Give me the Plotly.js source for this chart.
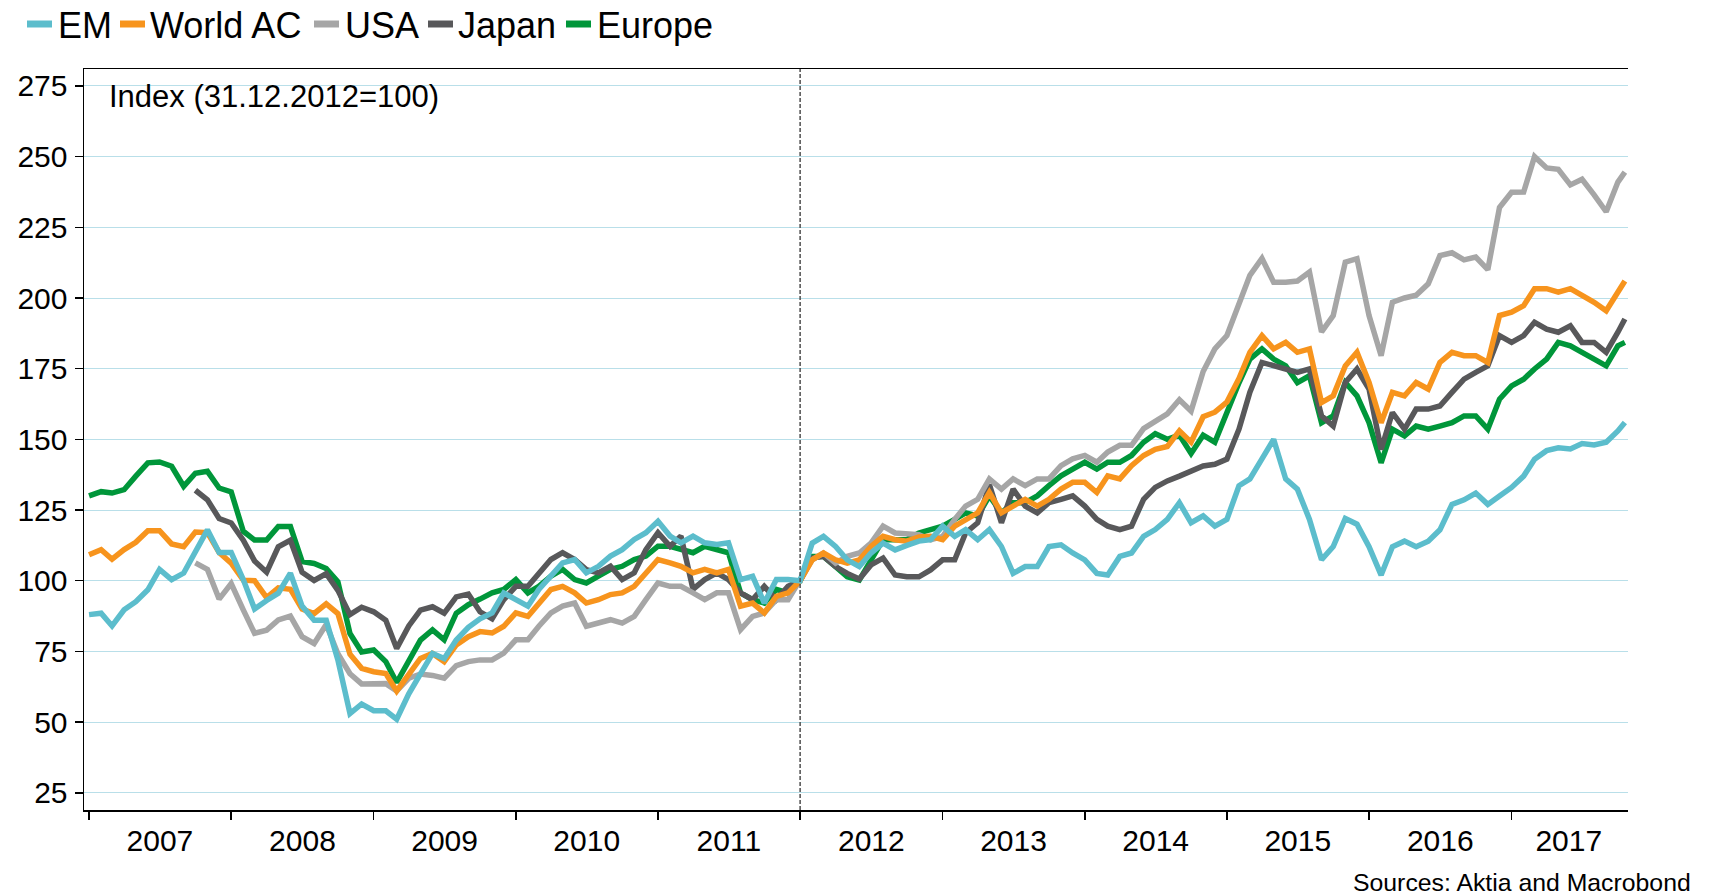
<!DOCTYPE html>
<html>
<head>
<meta charset="utf-8">
<script src="https://cdn.plot.ly/plotly-3.0.1.min.js"></script>
<style>
html,body{margin:0;padding:0;background:#ffffff;}
#chart{width:1715px;height:896px;}
</style>
</head>
<body>
<div id="chart"></div>
<script>
// ---------- DATA ----------
const dates = [
 '2007-01','2007-02','2007-03','2007-04','2007-05','2007-06','2007-07','2007-08','2007-09','2007-10','2007-11','2007-12',
 '2008-01','2008-02','2008-03','2008-04','2008-05','2008-06','2008-07','2008-08','2008-09','2008-10','2008-11','2008-12',
 '2009-01','2009-02','2009-03','2009-04','2009-05','2009-06','2009-07','2009-08','2009-09','2009-10','2009-11','2009-12',
 '2010-01','2010-02','2010-03','2010-04','2010-05','2010-06','2010-07','2010-08','2010-09','2010-10','2010-11','2010-12',
 '2011-01','2011-02','2011-03','2011-04','2011-05','2011-06','2011-07','2011-08','2011-09','2011-10','2011-11','2011-12',
 '2012-01','2012-02','2012-03','2012-04','2012-05','2012-06','2012-07','2012-08','2012-09','2012-10','2012-11','2012-12',
 '2013-01','2013-02','2013-03','2013-04','2013-05','2013-06','2013-07','2013-08','2013-09','2013-10','2013-11','2013-12',
 '2014-01','2014-02','2014-03','2014-04','2014-05','2014-06','2014-07','2014-08','2014-09','2014-10','2014-11','2014-12',
 '2015-01','2015-02','2015-03','2015-04','2015-05','2015-06','2015-07','2015-08','2015-09','2015-10','2015-11','2015-12',
 '2016-01','2016-02','2016-03','2016-04','2016-05','2016-06','2016-07','2016-08','2016-09','2016-10','2016-11','2016-12',
 '2017-01','2017-02','2017-03','2017-04','2017-05','2017-06','2017-07','2017-08','2017-09','2017-10','2017-10-19'
];

const seriesNames = ['EM', 'World AC', 'USA', 'Japan', 'Europe'];

const em = [
 88, 88.5, 84, 89.7, 92.6, 96.8, 104, 100.4, 102.7, 110,
 118, 110, 110, 100.4, 90, 93, 95.6, 102.7, 91, 86,
 86, 72, 53, 56.4, 54, 54, 51, 60, 67.3, 74.3,
 72.5, 79, 83.5, 86.5, 88.6, 95.7, 93.3, 91, 96.9, 101.6,
 106.3, 107.5, 102.8, 105.1, 108.7, 111, 114.6, 117, 121, 115.8,
 113.4, 115.8, 113.4, 112.8, 113.4, 100.4, 101.6, 92.1, 100.4, 100.4,
 100, 113.3, 115.7, 112.1, 107.4, 105, 109.8, 113.3, 110.9, 112.5,
 114, 114.5, 119.3, 115.7, 118.1, 114.5, 118.1, 112.1, 102.6, 105,
 105, 112.1, 112.7, 109.8, 107.4, 102.6, 102, 108.6, 109.8, 115.7,
 118.1, 121.7, 127.6, 120.5, 122.9, 119.3, 121.7, 133.6, 136, 143.1,
 150, 136, 132.4, 121.7, 107.4, 112.1, 122, 120, 112, 102,
 112, 114, 112, 114, 118, 127, 128.6, 131, 127, 130,
 133, 137, 143, 146, 147, 146.6, 148.5, 148, 149, 153,
 156
];

const worldAC = [
 109.2, 111, 107.6, 111, 113.6, 117.7, 117.7, 113, 112, 117.2,
 117, 110, 106.2, 100.2, 100, 94, 97.5, 97, 90, 88.4,
 91.8, 88.4, 74, 69, 67.8, 67.2, 61, 67.2, 72.5, 74.3,
 71.4, 77.3, 80.2, 82, 81.5, 83.9, 88.6, 87.4, 92.1, 96.9,
 98, 95.7, 92.1, 93.3, 95.1, 95.7, 98, 102.8, 107.5, 106.3,
 105.1, 102.8, 104, 102.8, 104, 91, 92.1, 88.6, 94.5, 95.7,
 100, 107.4, 109.8, 107.4, 106.2, 107.4, 112.1, 115.7, 114.5, 114,
 115.5, 115.7, 114.5, 119.3, 121.7, 124, 131.2, 124, 126.4, 128.8,
 126.4, 128.8, 132.4, 134.8, 134.8, 131.2, 137.1, 136, 140.7, 144.3,
 146.5, 147.5, 153, 149, 158, 159.6, 163.2, 171.5, 180.8, 186.7,
 182, 184.3, 180.8, 182, 163, 165.4, 176, 180.8, 170.1, 155.9,
 166.6, 165.4, 170.1, 167.8, 177.2, 180.8, 179.6, 179.6, 177.2, 193.8,
 195, 197.3, 203.3, 203.3, 202.1, 203.3, 200.9, 198.5, 195.5, 202,
 206
];

const usa = [
 null, null, null, null, null, null, null, null, null, 106.3,
 104, 93.5, 99, 89.7, 81.4, 82.5, 86.1, 87.5, 80.2, 77.8,
 84.5, 74.2, 67.1, 63.5, 63.5, 63.6, 61, 65.5, 67, 66.5,
 65.5, 70, 71.4, 72, 72, 74.4, 79.1, 79.1, 83.9, 88.6,
 91, 92.1, 83.9, 85, 86.2, 85, 87.4, 93.3, 99.2, 98,
 98, 95.7, 93.3, 95.7, 95.7, 82.7, 87.4, 88.6, 93.3, 93.3,
 100, 107.4, 109.8, 106.2, 108.6, 109.8, 113.3, 119.3, 116.9, 116.5,
 116.3, 114.5, 115.7, 121.7, 126.4, 128.8, 136, 132.4, 136, 133.6,
 136, 136, 140.7, 143.1, 144.3, 141.9, 145.5, 147.9, 147.9, 153.8,
 156.5, 159, 164, 160, 174, 182, 186.7, 198.5, 208, 214,
 205.6, 205.6, 206, 209.2, 188, 193.8, 212.7, 213.9, 193.8, 179.6,
 198.5, 200, 201, 205, 215, 216, 213.5, 214.5, 210, 232,
 237.4, 237.5, 250, 246, 245.5, 240, 242, 236.5, 230.5, 241,
 244.5
];

const japan = [
 null, null, null, null, null, null, null, null, null, 132,
 128.6, 122, 120.4, 114.3, 107, 103, 112, 114.3, 103, 100.1,
 102.5, 96.6, 88, 90.6, 89, 86, 76, 84, 89.6, 90.8,
 88.5, 94.3, 95.3, 89, 86.5, 93.3, 98, 98, 102.8, 107.5,
 109.9, 107.5, 103.9, 102.8, 105.1, 100.4, 102.8, 111, 117, 112.2,
 115.8, 97, 100.4, 102.8, 100.4, 95.7, 93.3, 98, 93.3, 98,
 100, 108, 108.6, 105, 102.6, 100.6, 105.6, 108, 102, 101.4,
 101.4, 103.8, 107.4, 107.4, 116.9, 120.5, 134, 120.5, 132.4, 126.4,
 124, 127.6, 128.8, 130, 126.4, 121.7, 119.3, 118.1, 119.3, 128.8,
 133, 135.3, 137, 138.8, 140.6, 141.2, 143, 153.6, 166.7, 177.2,
 176, 174.9, 173.7, 174.9, 158.3, 154.7, 170.1, 174.9, 167.8, 146.4,
 159.5, 153.6, 160.7, 160.7, 161.8, 166.6, 171.3, 173.7, 176, 186.7,
 184.3, 186.7, 191.4, 189, 187.9, 190.2, 184.3, 184.3, 180.8, 187.9,
 192.6
];

const europe = [
 130, 131.5, 131, 132.2, 137, 141.7, 142, 140.5, 133.4, 138,
 138.7, 132.8, 131.4, 117.5, 114.4, 114.4, 119.2, 119.2, 106.8, 106.1,
 104.3, 99.6, 81.3, 74.8, 75.5, 71.4, 64, 72, 79, 82.6,
 79.1, 88.5, 91.5, 93.5, 95.7, 96.9, 100.4, 95.7, 98, 101.6,
 104, 100.4, 99.2, 101.6, 104, 105.1, 107.5, 108.7, 112.2, 112.2,
 111, 109.9, 112.2, 111, 109.9, 95.7, 93.3, 92.1, 96.9, 95.7,
 100, 108.6, 108.6, 105, 101.4, 100.2, 107.4, 114.5, 114.5, 114.5,
 116.9, 118.1, 119.3, 121.7, 124, 122.9, 130, 124, 127.6, 127.6,
 130, 133.6, 137.1, 139.5, 141.9, 139.5, 141.9, 141.9, 144.3, 149,
 152, 150, 151.5, 145, 151.5, 149, 160, 170, 178.4, 182,
 178.4, 176, 170.1, 172.5, 155.9, 158.3, 170.1, 165.4, 155.9, 141.7,
 153.6, 151.2, 154.7, 153.6, 154.7, 155.9, 158.3, 158.3, 153.6, 164.2,
 168.9, 171.3, 174.9, 178.4, 184.3, 183.1, 180.8, 178.4, 176, 183.1,
 184.3
];

const yTickVals = [25, 50, 75, 100, 125, 150, 175, 200, 225, 250, 275];
const yearLabels = ['2007','2008','2009','2010','2011','2012','2013','2014','2015','2016','2017'];
const yearLabelPos = ['2007-07-02','2008-07-02','2009-07-02','2010-07-02','2011-07-02','2012-07-02',
                      '2013-07-02','2014-07-02','2015-07-02','2016-07-02','2017-05-28'];
const yearBounds = ['2007-01-01','2008-01-01','2009-01-01','2010-01-01','2011-01-01','2012-01-01',
                    '2013-01-01','2014-01-01','2015-01-01','2016-01-01','2017-01-01'];
const baseDate = '2012-01-01';

// ---------- STYLE ----------
const colors = {
  'EM': '#5cbdcc',
  'World AC': '#f7941d',
  'USA': '#a6a6a6',
  'Japan': '#58585a',
  'Europe': '#00963a'
};
const FONT = 'Liberation Sans, Arial, sans-serif';
const W = 1715, H = 896;
const ML = 84, MR = 87, MT = 69, MB = 86;
const PW = W - ML - MR, PH = H - MT - MB;
const px2x = px => (px - ML) / PW;
const py2y = py => (H - MB - py) / PH;

const valuesByName = {'EM': em, 'World AC': worldAC, 'USA': usa, 'Japan': japan, 'Europe': europe};
const drawOrder = ['Europe', 'Japan', 'USA', 'World AC', 'EM'];

const traces = drawOrder.map(name => ({
  type: 'scatter',
  mode: 'lines',
  name: name,
  x: dates,
  y: valuesByName[name],
  line: {color: colors[name], width: 5.5},
  connectgaps: false,
  showlegend: false,
  hoverinfo: 'skip'
}));

// custom legend (positions in pixels from the reference)
const legLineX = [27, 120, 314, 428, 566];
const legTextX = [58, 150, 345, 458, 597];
const legLineLen = 25;
const legY = 24;
const shapes = [];
const annotations = [];
seriesNames.forEach((name, i) => {
  shapes.push({
    type: 'line', xref: 'paper', yref: 'paper',
    x0: px2x(legLineX[i]), x1: px2x(legLineX[i] + legLineLen),
    y0: py2y(legY), y1: py2y(legY),
    line: {color: colors[name], width: 7}
  });
  annotations.push({
    xref: 'paper', yref: 'paper', x: px2x(legTextX[i] - 2), y: py2y(legY + 1),
    xanchor: 'left', yanchor: 'middle', showarrow: false, text: name,
    font: {family: FONT, size: 36, color: '#000'}
  });
});

// dashed vertical base line
shapes.push({
  type: 'line', xref: 'x', yref: 'paper',
  x0: baseDate, x1: baseDate, y0: 0, y1: 1,
  line: {color: '#4d4d4d', width: 1.5, dash: '4px,2px'}
});

annotations.push({
  xref: 'paper', yref: 'paper', x: px2x(107), y: py2y(96),
  xanchor: 'left', yanchor: 'middle', showarrow: false,
  text: 'Index (31.12.2012=100)',
  font: {family: FONT, size: 31, color: '#000'}
});
annotations.push({
  xref: 'paper', yref: 'paper', x: px2x(1693), y: py2y(882),
  xanchor: 'right', yanchor: 'middle', showarrow: false,
  text: 'Sources: Aktia and Macrobond',
  font: {family: FONT, size: 24.8, color: '#000'}
});

const yRange = [18.9, 281];
const yCommon = {
  range: yRange,
  tickmode: 'array',
  tickvals: yTickVals,
  ticks: 'outside',
  ticklen: 8,
  tickwidth: 1.5,
  tickcolor: '#000',
  ticklabelstandoff: 1,
  tickfont: {family: FONT, size: 30, color: '#000'},
  showline: true,
  linecolor: '#000',
  linewidth: 1.5,
  zeroline: false,
  fixedrange: true
};

const layout = {
  width: W, height: H,
  margin: {l: ML, r: MR, t: MT, b: MB, pad: 0},
  paper_bgcolor: '#ffffff',
  plot_bgcolor: '#ffffff',
  font: {family: FONT, size: 30, color: '#000'},
  showlegend: false,
  xaxis: {
    type: 'date',
    range: ['2006-12-19', '2017-10-27'],
    tickmode: 'array',
    tickvals: yearLabelPos,
    ticktext: yearLabels,
    ticks: '',
    tickfont: {family: FONT, size: 30, color: '#000'},
    ticklabelstandoff: 3,
    showgrid: false,
    showline: true,
    mirror: true,
    linecolor: '#000',
    linewidth: 1.5,
    zeroline: false,
    minor: {
      tickmode: 'array',
      tickvals: yearBounds,
      ticks: 'outside',
      ticklen: 8,
      tickwidth: 1.5,
      tickcolor: '#000',
      showgrid: false
    },
    fixedrange: true
  },
  yaxis: Object.assign({}, yCommon, {
    side: 'left',
    showgrid: true,
    gridcolor: '#b9dfe9',
    gridwidth: 1
  }),
  yaxis2: Object.assign({}, yCommon, {
    side: 'right',
    overlaying: 'y',
    showgrid: false
  }),
  shapes: shapes,
  annotations: annotations
};

Plotly.newPlot('chart', traces, layout, {displayModeBar: false, staticPlot: true});
</script>
</body>
</html>
